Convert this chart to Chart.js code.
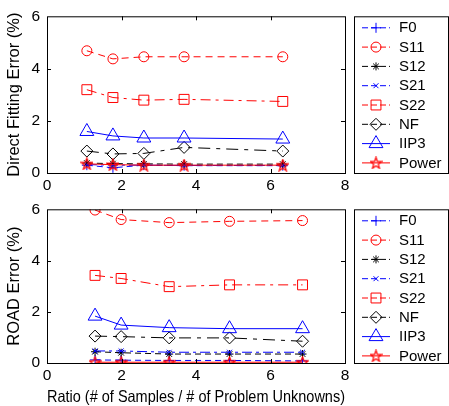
<!DOCTYPE html>
<html>
<head>
<meta charset="utf-8">
<script src="https://cdn.jsdelivr.net/npm/chart.js@4/dist/chart.umd.min.js"></script>
<style>
  html, body { margin: 0; padding: 0; background: #fff; }
  .wrap { position: relative; width: 449px; }
  canvas { display: block; }
</style>
</head>
<body>
<div class="wrap" style="height:193px"><canvas id="top"></canvas></div>
<div class="wrap" style="height:213px"><canvas id="bottom"></canvas></div>
<script>
// Valores (error en %)
const series = ['F0', 'S11', 'S12', 'S21', 'S22', 'NF', 'IIP3', 'Power'];
const xTicks = [0, 2, 4, 6, 8];
const yTicks = [0, 2, 4, 6];

// Panel de arriba: Direct Fitting
const xTop = [1.07, 1.77, 2.6, 3.68, 6.33];
const f0Top = [0.3, 0.2, 0.3, 0.28, 0.28];
const s11Top = [4.68, 4.37, 4.45, 4.45, 4.45];
const s12Top = [0.38, 0.36, 0.35, 0.34, 0.34];
const s21Top = [0.32, 0.3, 0.3, 0.29, 0.29];
const s22Top = [3.19, 2.89, 2.79, 2.82, 2.74];
const nfTop = [0.84, 0.73, 0.75, 0.98, 0.84];
const iip3Top = [1.59, 1.42, 1.34, 1.34, 1.3];
const powerTop = [0.35, 0.32, 0.3, 0.3, 0.3];

// Panel de abajo: ROAD
const xBot = [1.29, 1.99, 3.28, 4.9, 6.86];
const f0Bot = [0.12, 0.11, 0.1, 0.1, 0.08];
const s11Bot = [5.97, 5.6, 5.48, 5.53, 5.56];
const s12Bot = [0.44, 0.4, 0.35, 0.35, 0.35];
const s21Bot = [0.47, 0.47, 0.42, 0.42, 0.42];
const s22Bot = [3.42, 3.3, 2.98, 3.05, 3.05];
const nfBot = [1.05, 1.03, 0.98, 0.98, 0.85];
const iip3Bot = [1.83, 1.48, 1.38, 1.34, 1.34];
const powerBot = [0.03, 0.03, 0.03, 0.03, 0.03];

// Estrella de cinco puntas (Chart.js no la trae)
function pentagrama(size, color) {
  const c = document.createElement('canvas');
  c.width = size; c.height = size;
  const g = c.getContext('2d');
  const cx = size / 2, cy = size / 2 + 0.5, R = size / 2 - 0.5, r = R * 0.4;
  g.beginPath();
  for (let i = 0; i < 10; i++) {
    const a = -Math.PI / 2 + i * Math.PI / 5;
    const rr = i % 2 === 0 ? R : r;
    const px = cx + rr * Math.cos(a), py = cy + rr * Math.sin(a);
    if (i === 0) g.moveTo(px, py); else g.lineTo(px, py);
  }
  g.closePath();
  g.strokeStyle = color;
  g.lineWidth = 1.2;
  g.stroke();
  return c;
}
const STAR = pentagrama(13, '#ff0000');

const ESTILOS = [
  { color: '#0000ff', point: 'cross', radius: 5, dash: [6, 4] },
  { color: '#ff0000', point: 'circle', radius: 5, dash: [7, 5] },
  { color: '#000000', point: 'star', radius: 4, dash: [6, 4] },
  { color: '#0000ff', point: 'crossRot', radius: 3.5, dash: [10, 4, 3, 4] },
  { color: '#ff0000', point: 'rect', radius: 7, dash: [10, 5, 3, 5] },
  { color: '#000000', point: 'rectRot', radius: 6, dash: [12, 6, 4, 6] },
  { color: '#0000ff', point: 'triangle', radius: 8, dash: [] },
  { color: '#ff0000', point: STAR, radius: 6, dash: [] },
];

const FAMILIA = 'Liberation Sans, Arial, sans-serif';
const FONT = { family: FAMILIA, size: 15.5 };
const FONT_TITULO = { family: FAMILIA, size: 16.5, lineHeight: 1 };

function datasets(xs, ys) {
  return ys.map((vals, i) => ({
    label: series[i],
    data: vals.map((v, j) => ({ x: xs[j], y: v })),
    borderColor: ESTILOS[i].color,
    borderWidth: 1,
    borderDash: ESTILOS[i].dash,
    pointStyle: ESTILOS[i].point,
    pointRadius: ESTILOS[i].radius,
    pointBorderColor: ESTILOS[i].color,
    pointBackgroundColor: 'rgba(0,0,0,0)',
    pointBorderWidth: 1,
    tension: 0,
    order: series.length - i,
  }));
}

// Caja, ticks hacia adentro y leyenda al estilo MATLAB
const matlabBox = {
  id: 'matlabBox',
  afterDraw(chart) {
    const { ctx, chartArea: a, scales } = chart;
    ctx.save();
    ctx.strokeStyle = '#000';
    ctx.lineWidth = 1;
    ctx.setLineDash([]);
    ctx.strokeRect(a.left + 0.5, a.top + 0.5, a.right - a.left, a.bottom - a.top);
    ctx.beginPath();
    for (const t of xTicks.slice(1, -1)) {
      const px = Math.round(scales.x.getPixelForValue(t)) + 0.5;
      ctx.moveTo(px, a.bottom); ctx.lineTo(px, a.bottom - 4);
      ctx.moveTo(px, a.top); ctx.lineTo(px, a.top + 4);
    }
    for (const t of yTicks.slice(1, -1)) {
      const py = Math.round(scales.y.getPixelForValue(t)) + 0.5;
      ctx.moveTo(a.left, py); ctx.lineTo(a.left + 4, py);
      ctx.moveTo(a.right, py); ctx.lineTo(a.right - 4, py);
    }
    ctx.stroke();

    // leyenda
    const lx = 354, ly = a.top, lw = 94, lh = a.bottom - a.top;
    ctx.strokeRect(lx + 0.5, ly + 0.5, lw, lh);
    ctx.font = `15px ${FAMILIA}`;
    ctx.textBaseline = 'middle';
    ctx.fillStyle = '#000';
    series.forEach((name, i) => {
      const y = ly + 11.5 + i * 19.3;
      const e = ESTILOS[i];
      ctx.strokeStyle = e.color;
      ctx.setLineDash(e.dash.length ? [6, 3] : []);
      ctx.beginPath();
      ctx.moveTo(362, y); ctx.lineTo(390, y);
      ctx.stroke();
      ctx.setLineDash([]);
      ctx.fillStyle = 'rgba(0,0,0,0)';
      Chart.helpers.drawPoint(ctx, { pointStyle: e.point, radius: e.radius, rotation: 0, borderWidth: 1 }, 376, y);
      ctx.fillStyle = '#000';
      ctx.fillText(name, 399, y + 0.5);
    });
    ctx.restore();
  },
};

function crearPanel(id, xs, ys, yTitulo, xTitulo, top, alturaX) {
  return new Chart(document.getElementById(id), {
    type: 'line',
    data: { datasets: datasets(xs, ys) },
    options: {
      responsive: true,
      maintainAspectRatio: false,
      animation: false,
      layout: { padding: { top: top, right: 104, left: 0, bottom: 0 } },
      plugins: { legend: { display: false }, tooltip: { enabled: false } },
      scales: {
        x: {
          type: 'linear', min: 0, max: 8,
          grid: { display: false, drawTicks: false },
          border: { display: false },
          afterBuildTicks: (s) => { s.ticks = xTicks.map((v) => ({ value: v })); },
          afterFit: (s) => { s.height = alturaX; },
          ticks: { color: '#000', font: FONT, padding: 3, maxRotation: 0 },
          title: { display: !!xTitulo, text: xTitulo, color: '#000', font: FONT_TITULO, padding: { top: 0, bottom: 0 } },
        },
        y: {
          type: 'linear', min: 0, max: 6,
          grid: { display: false, drawTicks: false },
          border: { display: false },
          afterBuildTicks: (s) => { s.ticks = yTicks.map((v) => ({ value: v })); },
          afterFit: (s) => { s.width = 47; },
          ticks: { color: '#000', font: FONT, padding: 7 },
          title: { display: true, text: yTitulo, color: '#000', font: FONT_TITULO, padding: { top: 6, bottom: 0 } },
        },
      },
    },
    plugins: [matlabBox],
  });
}

crearPanel('top', xTop,
  [f0Top, s11Top, s12Top, s21Top, s22Top, nfTop, iip3Top, powerTop],
  'Direct Fitting Error (%)', '', 14, 20);

crearPanel('bottom', xBot,
  [f0Bot, s11Bot, s12Bot, s21Bot, s22Bot, nfBot, iip3Bot, powerBot],
  'ROAD Error (%)', 'Ratio (# of Samples / # of Problem Unknowns)', 12, 43);
</script>
</body>
</html>
